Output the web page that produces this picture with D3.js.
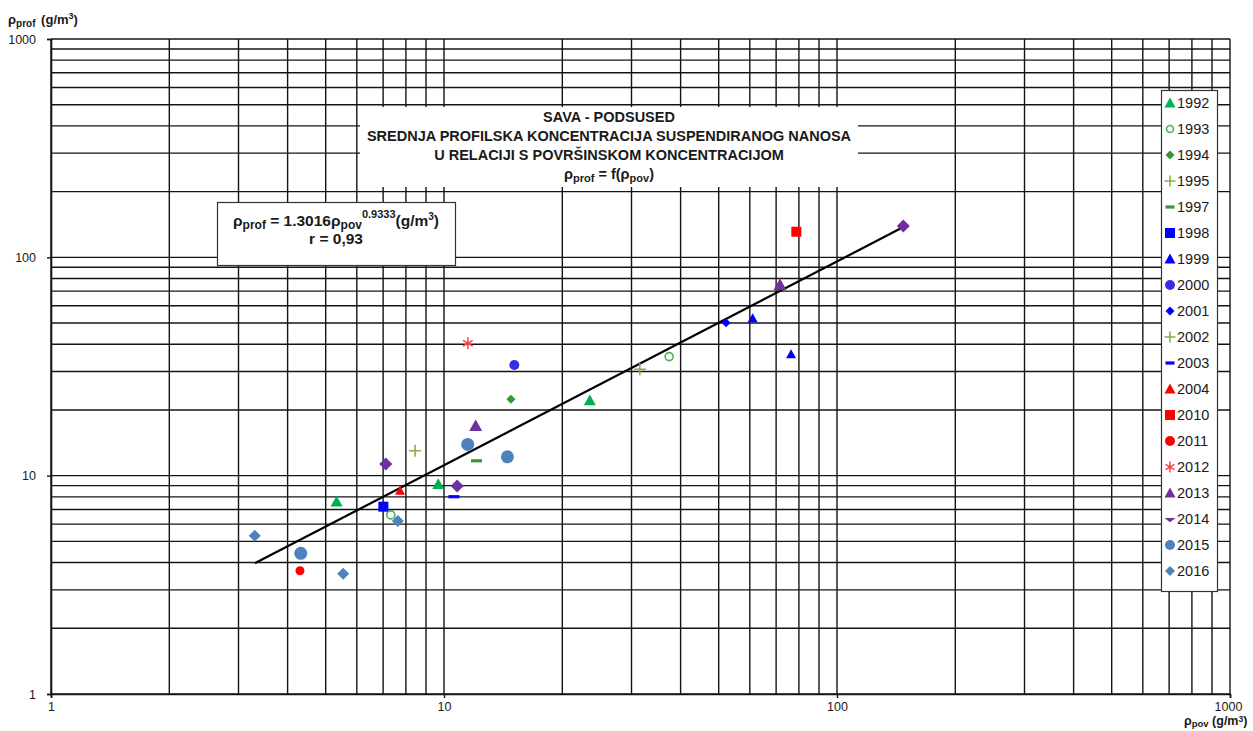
<!DOCTYPE html>
<html><head><meta charset="utf-8">
<script src="https://cdn.jsdelivr.net/npm/d3@7"></script>
<style>
body{margin:0;background:#fff}
svg{display:block}
text{font-family:"Liberation Sans",Arial,Helvetica,sans-serif;fill:#1a1a1a}
</style>
</head><body>
<svg id="chart" width="1253" height="731"></svg>
<script>
// ---------- DATA ----------
const years = ["1992","1993","1994","1995","1997","1998","1999","2000","2001","2002","2003","2004","2010","2011","2012","2013","2014","2015","2016"];
// [surface concentration (pov), profile concentration (prof)] in g/m3
const s1992 = [[5.33,7.6],[9.67,9.13],[23.5,22.1]];
const s1993 = [[7.32,6.61],[37.4,35.1]];
const s1994 = [[14.8,22.4]];
const s1995 = [[8.44,13.0]];
const s1997 = [[12.1,11.7]];
const s1998 = [[7.01,7.21]];
const s1999 = [[61.0,52.6],[76.4,36.0]];
const s2000 = [[15.1,32.1]];
const s2001 = [[52.2,50.2]];
const s2002 = [[31.5,30.7]];
const s2003 = [[10.6,8.01]];
const s2004 = [[7.73,8.54]];
const s2010 = [[78.8,131]];
const s2011 = [[4.30,3.67]];
const s2012 = [[11.5,40.4]];
const s2013 = [[12.04,16.9],[71.6,74.8]];
const s2014 = [[7.11,11.3],[10.8,8.97],[147.5,139]];
const s2015 = [[4.32,4.41],[11.49,13.9],[14.5,12.2]];
const s2016 = [[3.30,5.31],[5.54,3.55],[7.63,6.20]];
const seriesData = [s1992,s1993,s1994,s1995,s1997,s1998,s1999,s2000,s2001,s2002,s2003,s2004,s2010,s2011,s2012,s2013,s2014,s2015,s2016];

const tickValues = [1,10,100,1000];
const tickLabels = ["1","10","100","1000"];
const fitA = 1.3016, fitB = 0.9333;
const titleLines = ["SAVA - PODSUSED","SREDNJA PROFILSKA KONCENTRACIJA SUSPENDIRANOG NANOSA","U RELACIJI S POVRŠINSKOM KONCENTRACIJOM"];

// ---------- STYLES ----------
const styles = {
 "1992":{shape:"triangle",color:"#00b050",size:12,lsize:11},
 "1993":{shape:"ocircle",color:"#4fae4f",size:10,lsize:9},
 "1994":{shape:"diamond",color:"#339933",size:9,lsize:9},
 "1995":{shape:"plus",color:"#8fa94f",size:12,lsize:11},
 "1997":{shape:"dash",color:"#339933",size:11,lsize:9},
 "1998":{shape:"square",color:"#0000ff",size:10,lsize:10},
 "1999":{shape:"triangle",color:"#0000ff",size:10,lsize:11},
 "2000":{shape:"circle",color:"#3a2fe0",size:10,lsize:10},
 "2001":{shape:"diamond",color:"#0000ff",size:9,lsize:9},
 "2002":{shape:"plus",color:"#8fa94f",size:12,lsize:11},
 "2003":{shape:"dash",color:"#0000ff",size:11,lsize:9},
 "2004":{shape:"triangle",color:"#ff0000",size:10,lsize:11},
 "2010":{shape:"square",color:"#ff0000",size:10,lsize:10},
 "2011":{shape:"circle",color:"#ff0000",size:9,lsize:10},
 "2012":{shape:"asterisk",color:"#ff4040",size:12,lsize:11},
 "2013":{shape:"triangle",color:"#7030a0",size:13,lsize:11},
 "2014":{shape:"diamond",color:"#7030a0",size:13,lsize:11,legendShape:"halfdiamond"},
 "2015":{shape:"circle",color:"#4f81bd",size:13,lsize:10},
 "2016":{shape:"diamond",color:"#4f81bd",size:12,lsize:10}
};

// ---------- SETUP ----------
const svg = d3.select("#chart");
const x = d3.scaleLog().domain([1,1000]).range([51,1230]);
const y = d3.scaleLog().domain([1,1000]).range([694,39]);

// grid
const gridColor = "#141414";
const gx = x.ticks(), gy = y.ticks();
svg.append("g").selectAll("line").data(gx).join("line")
  .attr("x1",d=>x(d)).attr("x2",d=>x(d)).attr("y1",y(1000)).attr("y2",y(1))
  .attr("stroke",gridColor).attr("stroke-width",1.4);
svg.append("g").selectAll("line").data(gy).join("line")
  .attr("y1",d=>y(d)).attr("y2",d=>y(d)).attr("x1",x(1)).attr("x2",x(1000))
  .attr("stroke",gridColor).attr("stroke-width",1.4);

// axes (ticks + labels)
const xAxis = d3.axisBottom(x).tickValues(tickValues).tickSize(4).tickPadding(4)
  .tickFormat((d,i)=>tickLabels[i]);
const yAxis = d3.axisLeft(y).tickValues(tickValues).tickSize(4).tickPadding(9)
  .tickFormat((d,i)=>tickLabels[i]);
const gxA = svg.append("g").attr("transform",`translate(0,${y(1)})`).call(xAxis);
const gyA = svg.append("g").attr("transform",`translate(${x(1)},0)`).call(yAxis);
[gxA,gyA].forEach(g=>{
  g.select(".domain").attr("stroke",gridColor).attr("stroke-width",1.6);
  g.selectAll(".tick line").attr("stroke",gridColor).attr("stroke-width",1.4);
  g.selectAll(".tick text").attr("font-size",12.5).attr("fill","#1a1a1a")
   .style("font-family",'"Liberation Sans",Arial,sans-serif');
});
gyA.selectAll(".tick text").attr("dx",-2);
gxA.selectAll(".tick text").filter((d,i)=>i===3).attr("dx",-2);

// axis titles
const yt = svg.append("text").attr("x",8).attr("y",24).attr("font-size",13).attr("font-weight","bold");
yt.append("tspan").text("ρ");
yt.append("tspan").text("prof").attr("font-size",10).attr("dy",3);
yt.append("tspan").text(" (g/m").attr("dy",-3).attr("dx",2);
yt.append("tspan").text("3").attr("font-size",9).attr("dy",-5);
yt.append("tspan").text(")").attr("dy",5);

const xt = svg.append("text").attr("x",1184).attr("y",725).attr("font-size",12.5).attr("font-weight","bold");
xt.append("tspan").text("ρ");
xt.append("tspan").text("pov").attr("font-size",9.5).attr("dy",1.5);
xt.append("tspan").text(" (g/m").attr("dy",-1.5);
xt.append("tspan").text("3").attr("font-size",8.5).attr("dy",-3.5);
xt.append("tspan").text(")").attr("dy",3.5);

// title box
svg.append("rect").attr("x",360).attr("y",107).attr("width",498).attr("height",80).attr("fill","#fff");
const tcx = 609;
titleLines.forEach((t,i)=>{
  svg.append("text").attr("x",tcx).attr("y",122+i*19).attr("text-anchor","middle")
    .attr("font-size",14.5).attr("font-weight","bold").text(t);
});
const ft = svg.append("text").attr("x",tcx).attr("y",179).attr("text-anchor","middle")
  .attr("font-size",14.5).attr("font-weight","bold");
ft.append("tspan").text("ρ");
ft.append("tspan").text("prof").attr("font-size",11).attr("dy",3);
ft.append("tspan").text(" = f(ρ").attr("dy",-3);
ft.append("tspan").text("pov").attr("font-size",11).attr("dy",3);
ft.append("tspan").text(")").attr("dy",-3);

// equation box
svg.append("rect").attr("x",217.5).attr("y",202.5).attr("width",238).attr("height",63)
  .attr("fill","#fff").attr("stroke","#333").attr("stroke-width",1.2);
const eq = svg.append("text").attr("x",336).attr("y",226).attr("text-anchor","middle")
  .attr("font-size",15.5).attr("font-weight","bold");
eq.append("tspan").text("ρ");
eq.append("tspan").text("prof").attr("font-size",12).attr("dy",3);
eq.append("tspan").text(" = " + fitA + "ρ").attr("dy",-3);
eq.append("tspan").text("pov").attr("font-size",12).attr("dy",3);
eq.append("tspan").text(String(fitB)).attr("font-size",11).attr("dy",-11);
eq.append("tspan").text("(g/m").attr("dy",8);
eq.append("tspan").text("3").attr("font-size",10).attr("dy",-6);
eq.append("tspan").text(")").attr("dy",6);
svg.append("text").attr("x",336).attr("y",244).attr("text-anchor","middle")
  .attr("font-size",15.5).attr("font-weight","bold").text("r = 0,93");

// regression line across data range
const allX = seriesData.flat().map(d=>d[0]);
const xMin = d3.min(allX), xMax = d3.max(allX);
const fitPts = [xMin,xMax].map(v=>[v, fitA*Math.pow(v,fitB)]);
svg.append("path").datum(fitPts)
  .attr("d",d3.line().x(d=>x(d[0])).y(d=>y(d[1])))
  .attr("stroke","#000").attr("stroke-width",2.2).attr("fill","none");

// marker drawing
function drawMarker(g, shape, s, color){
  const h = s/2;
  if(shape==="triangle"){
    g.append("path").attr("d",`M0,${-h} L${h},${h*0.8} L${-h},${h*0.8} Z`).attr("fill",color);
  } else if(shape==="diamond"){
    g.append("path").attr("d",`M0,${-h} L${h},0 L0,${h} L${-h},0 Z`).attr("fill",color);
  } else if(shape==="halfdiamond"){
    g.append("path").attr("d",`M${-h},${-h*0.2} L${h},${-h*0.2} L0,${h*0.6} Z`).attr("fill",color);
  } else if(shape==="square"){
    g.append("rect").attr("x",-h).attr("y",-h).attr("width",s).attr("height",s).attr("fill",color);
  } else if(shape==="circle"){
    g.append("circle").attr("r",h).attr("fill",color);
  } else if(shape==="ocircle"){
    g.append("circle").attr("r",h-1).attr("fill","none").attr("stroke",color).attr("stroke-width",1.6);
  } else if(shape==="plus"){
    g.append("path").attr("d",`M${-h},0 L${h},0 M0,${-h} L0,${h}`).attr("stroke",color).attr("stroke-width",1.6);
  } else if(shape==="dash"){
    g.append("rect").attr("x",-h).attr("y",-1.6).attr("width",s).attr("height",3.2).attr("fill",color);
  } else if(shape==="asterisk"){
    const d = h*0.8;
    g.append("path").attr("d",`M0,${-h} L0,${h} M${-d},${-d*0.6} L${d},${d*0.6} M${-d},${d*0.6} L${d},${-d*0.6}`)
      .attr("stroke",color).attr("stroke-width",1.5);
  }
}

// points
const pts = svg.append("g");
years.forEach((yr,i)=>{
  const st = styles[yr];
  seriesData[i].forEach(p=>{
    const g = pts.append("g").attr("transform",`translate(${x(p[0])},${y(p[1])})`);
    drawMarker(g, st.shape, st.size, st.color);
  });
});

// legend
const lg = svg.append("g");
lg.append("rect").attr("x",1161.5).attr("y",90.5).attr("width",56).attr("height",501)
  .attr("fill","#fff").attr("stroke","#333").attr("stroke-width",1.2);
years.forEach((yr,i)=>{
  const st = styles[yr];
  const cy = 103 + i*26;
  const g = lg.append("g").attr("transform",`translate(1170,${cy})`);
  drawMarker(g, st.legendShape||st.shape, st.lsize, st.color);
  lg.append("text").attr("x",1177).attr("y",cy+5).attr("font-size",14.5).text(yr);
});
</script>
</body></html>
